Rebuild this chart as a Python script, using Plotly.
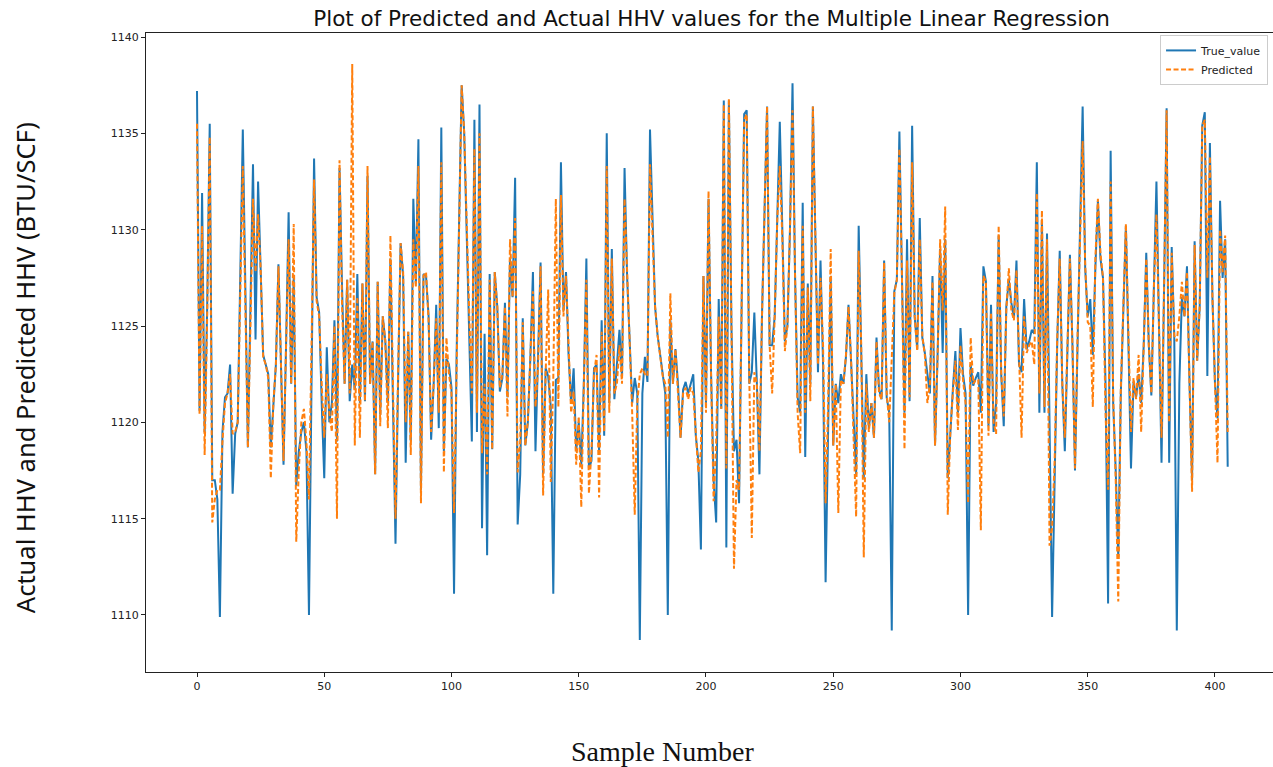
import plotly.graph_objects as go

# HHV values (BTU/SCF) per sample, in sample order
true_value = [
    1137.2, 1120.6, 1131.9, 1119.5, 1126.0, 1135.5, 1117.0, 1117.0, 1116.0, 1109.9,
    1119.5, 1121.3, 1121.5, 1123.0, 1116.3, 1119.4, 1120.0, 1127.0, 1135.2, 1127.0,
    1118.7, 1126.0, 1133.4, 1124.3, 1132.5, 1128.0, 1123.5, 1123.0, 1122.5, 1118.7,
    1121.0, 1123.0, 1128.2, 1123.0, 1117.8, 1124.0, 1130.9, 1122.0, 1127.5, 1116.7,
    1118.5, 1119.5, 1120.0, 1118.5, 1110.0, 1122.0, 1133.7, 1126.5, 1125.7, 1121.0,
    1117.1, 1123.9, 1120.0, 1121.0, 1125.3, 1119.0, 1133.2, 1127.0, 1122.0, 1127.4,
    1121.1, 1123.0, 1121.7, 1127.7, 1121.0, 1127.2, 1121.1, 1132.8, 1122.0, 1124.2,
    1117.3, 1127.3, 1120.4, 1125.5, 1124.2, 1121.0, 1128.5, 1121.0, 1113.7, 1122.0,
    1129.3, 1127.6, 1117.9, 1124.7, 1119.0, 1131.6, 1127.2, 1134.7, 1116.5, 1127.7,
    1127.6, 1125.5, 1119.1, 1122.0, 1126.1, 1119.7, 1135.3, 1118.5, 1123.3, 1123.0,
    1121.8, 1111.1, 1123.5, 1130.5, 1137.5, 1135.0, 1129.7, 1125.0, 1119.0, 1135.7,
    1119.5, 1136.5, 1114.5, 1124.6, 1113.1, 1127.7, 1118.6, 1127.8, 1126.0, 1121.6,
    1122.3, 1126.2, 1121.3, 1128.5, 1126.5, 1132.7, 1114.7, 1117.3, 1125.4, 1118.8,
    1120.0, 1123.4, 1127.8, 1118.5, 1122.8, 1128.3, 1117.3, 1122.8, 1122.4, 1120.8,
    1111.1, 1122.2, 1122.3, 1133.5, 1125.8, 1127.8, 1123.5, 1121.0, 1122.8, 1118.5,
    1120.0, 1117.8, 1122.0, 1128.5, 1117.6, 1118.0, 1122.8, 1123.0, 1118.5, 1125.3,
    1119.3, 1135.0, 1121.0, 1129.0, 1121.2, 1123.0, 1124.8, 1122.3, 1133.2, 1127.6,
    1124.0, 1121.0, 1122.3, 1121.5, 1108.7, 1121.5, 1123.4, 1122.1, 1135.2, 1130.0,
    1126.0, 1124.5, 1123.5, 1122.5, 1121.5, 1110.0, 1125.3, 1122.0, 1123.8, 1122.0,
    1119.2, 1121.7, 1122.1, 1121.5, 1122.0, 1122.5, 1119.3, 1118.0, 1113.4, 1127.6,
    1121.0, 1131.6, 1122.5, 1117.0, 1114.8, 1126.4, 1120.7, 1136.7, 1113.5, 1136.7,
    1125.0, 1118.5, 1119.1, 1115.8, 1126.0, 1136.0, 1136.2, 1122.0, 1122.6, 1125.7,
    1122.0, 1117.3, 1125.5, 1131.0, 1136.4, 1124.0, 1124.0, 1125.5, 1131.0, 1135.6,
    1130.0, 1124.2, 1125.0, 1130.0, 1137.6, 1127.6, 1121.3, 1120.5, 1131.4, 1118.2,
    1127.2, 1122.0, 1136.4, 1130.0, 1122.6, 1128.4, 1123.0, 1111.7, 1119.2, 1127.6,
    1118.8, 1122.0, 1121.0, 1122.5, 1122.0, 1123.4, 1126.1, 1123.4, 1120.0, 1117.3,
    1130.2, 1123.8, 1117.1, 1122.5, 1119.7, 1121.0, 1119.2, 1124.4, 1121.7, 1121.2,
    1128.4, 1121.3, 1120.5, 1109.2, 1126.8, 1127.4, 1135.1, 1127.6, 1120.5, 1129.5,
    1121.1, 1135.4, 1125.5, 1123.8, 1130.6, 1124.4, 1123.6, 1122.5, 1121.5, 1127.6,
    1118.8, 1123.5, 1129.0, 1123.6, 1129.5, 1117.1, 1119.6, 1121.7, 1123.7, 1120.5,
    1124.9, 1122.5, 1121.5, 1110.0, 1123.0, 1121.9, 1122.3, 1122.6, 1120.5, 1128.1,
    1127.3, 1119.8, 1126.1, 1119.5, 1121.0, 1129.7, 1122.5, 1119.8, 1126.0, 1127.4,
    1126.2, 1125.4, 1128.4, 1123.0, 1122.6, 1126.4, 1123.8, 1124.2, 1124.8, 1124.6,
    1133.5, 1120.5, 1130.5, 1120.5, 1129.8, 1121.0, 1109.9, 1117.0, 1124.0, 1128.9,
    1122.0, 1118.5, 1123.5, 1128.7, 1124.0, 1117.5, 1124.0, 1131.0, 1136.4, 1128.0,
    1125.5, 1126.4, 1123.5, 1128.0, 1131.5, 1128.5, 1127.5, 1122.0, 1110.6, 1134.1,
    1121.0, 1117.5, 1113.0, 1121.5, 1126.0, 1130.2, 1124.0, 1117.6, 1122.1, 1121.3,
    1122.5, 1121.0, 1124.0, 1128.8, 1124.0, 1121.4, 1127.0, 1132.5, 1125.0, 1117.9,
    1127.0, 1136.3, 1117.9, 1129.1, 1124.5, 1109.2, 1122.0, 1126.5, 1125.5, 1128.1,
    1122.0, 1117.0, 1129.4, 1123.2, 1126.0, 1135.4, 1136.1, 1122.4, 1134.5, 1126.5,
    1122.0, 1120.2, 1131.5, 1127.5, 1129.5, 1117.7,
]

predicted = [
    1135.5, 1120.4, 1130.2, 1118.3, 1125.5, 1134.8, 1114.8, 1116.0, 1116.5, 1116.5,
    1119.0, 1121.0, 1121.5, 1122.5, 1119.4, 1119.5, 1120.0, 1126.0, 1133.3, 1126.0,
    1118.7, 1125.0, 1131.6, 1127.8, 1130.8, 1128.0, 1123.4, 1123.0, 1122.3, 1117.1,
    1121.0, 1123.0, 1128.1, 1123.0, 1118.0, 1124.0, 1129.5, 1122.0, 1130.3, 1113.8,
    1117.5, 1120.0, 1120.7, 1119.0, 1116.0, 1124.0, 1132.6, 1126.3, 1125.5, 1122.0,
    1119.2, 1122.5, 1120.5, 1119.5, 1125.0, 1115.0, 1133.6, 1126.0, 1122.0, 1127.4,
    1121.5, 1138.6, 1118.8, 1126.5, 1119.2, 1127.2, 1121.1, 1133.3, 1122.0, 1124.2,
    1117.3, 1127.3, 1119.8, 1125.5, 1124.2, 1119.7, 1129.7, 1122.0, 1115.0, 1122.5,
    1129.3, 1127.8, 1120.0, 1124.7, 1118.3, 1129.5, 1127.0, 1133.3, 1115.8, 1127.6,
    1127.8, 1125.3, 1119.5, 1122.0, 1125.4, 1120.5, 1133.5, 1117.4, 1124.4, 1122.5,
    1121.5, 1115.3, 1123.2, 1130.3, 1137.5, 1135.0, 1129.7, 1125.5, 1121.5, 1134.2,
    1120.5, 1135.0, 1118.4, 1122.0, 1117.3, 1127.4, 1118.6, 1127.8, 1126.0, 1121.8,
    1122.5, 1126.0, 1120.3, 1129.5, 1126.5, 1130.6, 1117.4, 1119.0, 1125.2, 1118.8,
    1120.0, 1123.3, 1126.8, 1120.8, 1122.8, 1128.1, 1116.2, 1122.6, 1126.9, 1116.9,
    1122.3, 1131.6, 1120.8, 1131.8, 1125.5, 1127.6, 1123.5, 1120.5, 1121.6, 1117.8,
    1120.3, 1115.6, 1122.0, 1127.4, 1116.3, 1118.5, 1122.5, 1123.5, 1116.1, 1124.7,
    1119.5, 1133.3, 1120.5, 1128.5, 1121.5, 1122.0, 1124.0, 1122.0, 1131.6, 1127.6,
    1124.0, 1120.5, 1115.2, 1121.0, 1122.5, 1122.8, 1122.5, 1122.4, 1133.4, 1130.0,
    1126.0, 1124.5, 1123.5, 1122.4, 1122.0, 1119.2, 1126.7, 1122.0, 1123.8, 1121.5,
    1119.2, 1121.5, 1121.8, 1121.2, 1121.8, 1121.5, 1119.2, 1117.4, 1118.5, 1127.6,
    1120.5, 1132.0, 1122.4, 1115.9, 1119.0, 1125.5, 1120.7, 1136.5, 1117.6, 1136.8,
    1125.0, 1112.4, 1117.0, 1116.5, 1126.0, 1135.7, 1136.0, 1122.5, 1114.0, 1122.6,
    1122.0, 1118.5, 1125.5, 1131.0, 1136.4, 1124.0, 1121.5, 1125.5, 1130.5, 1133.3,
    1129.5, 1123.7, 1125.0, 1130.0, 1136.2, 1127.6, 1120.5, 1118.4, 1130.2, 1120.5,
    1127.0, 1121.1, 1136.4, 1129.5, 1123.0, 1127.5, 1124.0, 1115.8, 1121.0, 1129.0,
    1118.8, 1122.0, 1115.3, 1122.2, 1122.0, 1123.5, 1126.0, 1123.3, 1119.5, 1115.1,
    1128.9, 1124.0, 1113.0, 1122.0, 1119.5, 1121.0, 1119.2, 1124.2, 1121.5, 1121.2,
    1128.3, 1121.5, 1120.0, 1123.0, 1126.7, 1127.4, 1134.2, 1127.6, 1118.6, 1128.4,
    1121.3, 1133.5, 1125.5, 1123.7, 1129.5, 1124.5, 1123.5, 1121.0, 1122.0, 1127.3,
    1118.8, 1123.3, 1129.5, 1125.8, 1131.2, 1115.2, 1119.5, 1121.5, 1123.2, 1119.6,
    1124.0, 1122.2, 1121.0, 1115.8, 1124.4, 1122.0, 1122.2, 1122.2, 1114.4, 1127.6,
    1127.3, 1119.3, 1125.7, 1120.0, 1119.4, 1130.2, 1122.6, 1120.3, 1125.8, 1128.0,
    1125.8, 1125.3, 1127.9, 1123.5, 1119.2, 1125.5, 1123.6, 1124.0, 1124.2, 1123.0,
    1131.9, 1121.5, 1131.0, 1120.8, 1129.5, 1113.6, 1114.5, 1118.0, 1124.3, 1128.5,
    1122.0, 1119.2, 1123.3, 1128.5, 1124.0, 1117.6, 1124.5, 1130.0, 1134.6, 1128.2,
    1125.2, 1125.0, 1120.8, 1128.5, 1131.6, 1128.8, 1127.5, 1120.5, 1116.5, 1132.5,
    1121.3, 1117.0, 1110.7, 1121.8, 1126.2, 1130.3, 1124.5, 1119.5, 1122.3, 1121.2,
    1123.5, 1119.5, 1124.0, 1128.5, 1124.0, 1121.5, 1127.0, 1130.8, 1125.0, 1119.2,
    1127.0, 1136.2, 1120.0, 1128.8, 1124.5, 1124.2, 1125.5, 1127.3, 1125.5, 1127.8,
    1122.0, 1116.4, 1129.2, 1123.2, 1126.0, 1135.4, 1135.7, 1127.5, 1133.8, 1126.5,
    1122.0, 1117.9, 1130.0, 1127.8, 1129.7, 1119.5,
]

sample_number = list(range(len(true_value)))

x_ticks = [0, 50, 100, 150, 200, 250, 300, 350, 400]
y_ticks = [1110, 1115, 1120, 1125, 1130, 1135, 1140]

fig = go.Figure()
fig.add_trace(go.Scatter(
    x=sample_number, y=true_value, mode="lines", name="True_value",
    line=dict(color="#1f77b4", width=2),
))
fig.add_trace(go.Scatter(
    x=sample_number, y=predicted, mode="lines", name="Predicted",
    line=dict(color="#ff7f0e", width=2, dash="5px,2.5px"),
))

tick_font = dict(family="DejaVu Sans", size=11, color="#222222")

fig.update_layout(
    width=1273, height=767,
    paper_bgcolor="white", plot_bgcolor="white",
    margin=dict(l=146, r=0, t=33, b=95),
    title=dict(
        text="Plot of Predicted and Actual HHV values for the Multiple Linear Regression",
        x=0.559, xanchor="center", y=0.976, yanchor="middle",
        font=dict(family="DejaVu Sans", size=21.5, color="#111111"),
    ),
    xaxis=dict(
        range=[-20.04, 422.8], tickvals=x_ticks, ticks="outside", ticklen=4,
        tickcolor="#222222", showgrid=False, zeroline=False,
        showline=True, linecolor="#222222", linewidth=1, mirror=True,
        tickfont=tick_font,
    ),
    yaxis=dict(
        range=[1107.04, 1140.21], tickvals=y_ticks, ticks="outside", ticklen=4,
        tickcolor="#222222", showgrid=False, zeroline=False,
        showline=True, linecolor="#222222", linewidth=1, mirror=True,
        tickfont=tick_font,
    ),
    legend=dict(
        x=0.9956, y=0.997, xanchor="right", yanchor="top",
        bgcolor="rgba(255,255,255,0.85)", bordercolor="#cccccc", borderwidth=1,
        font=dict(family="DejaVu Sans", size=11, color="#222222"),
        tracegroupgap=0,
    ),
    showlegend=True,
    annotations=[
        dict(
            text="Actual HHV and Predicted HHV (BTU/SCF)",
            xref="paper", yref="paper", x=-0.1074, y=0.477,
            xanchor="center", yanchor="middle", textangle=-90, showarrow=False,
            font=dict(family="Noto Sans", size=25.5, color="#111111"),
        ),
        dict(
            text="Sample Number",
            xref="paper", yref="paper", x=0.4587, y=-0.125,
            xanchor="center", yanchor="middle", showarrow=False,
            font=dict(family="Liberation Serif", size=28, color="#111111"),
        ),
    ],
)

fig.write_html("out.html")
